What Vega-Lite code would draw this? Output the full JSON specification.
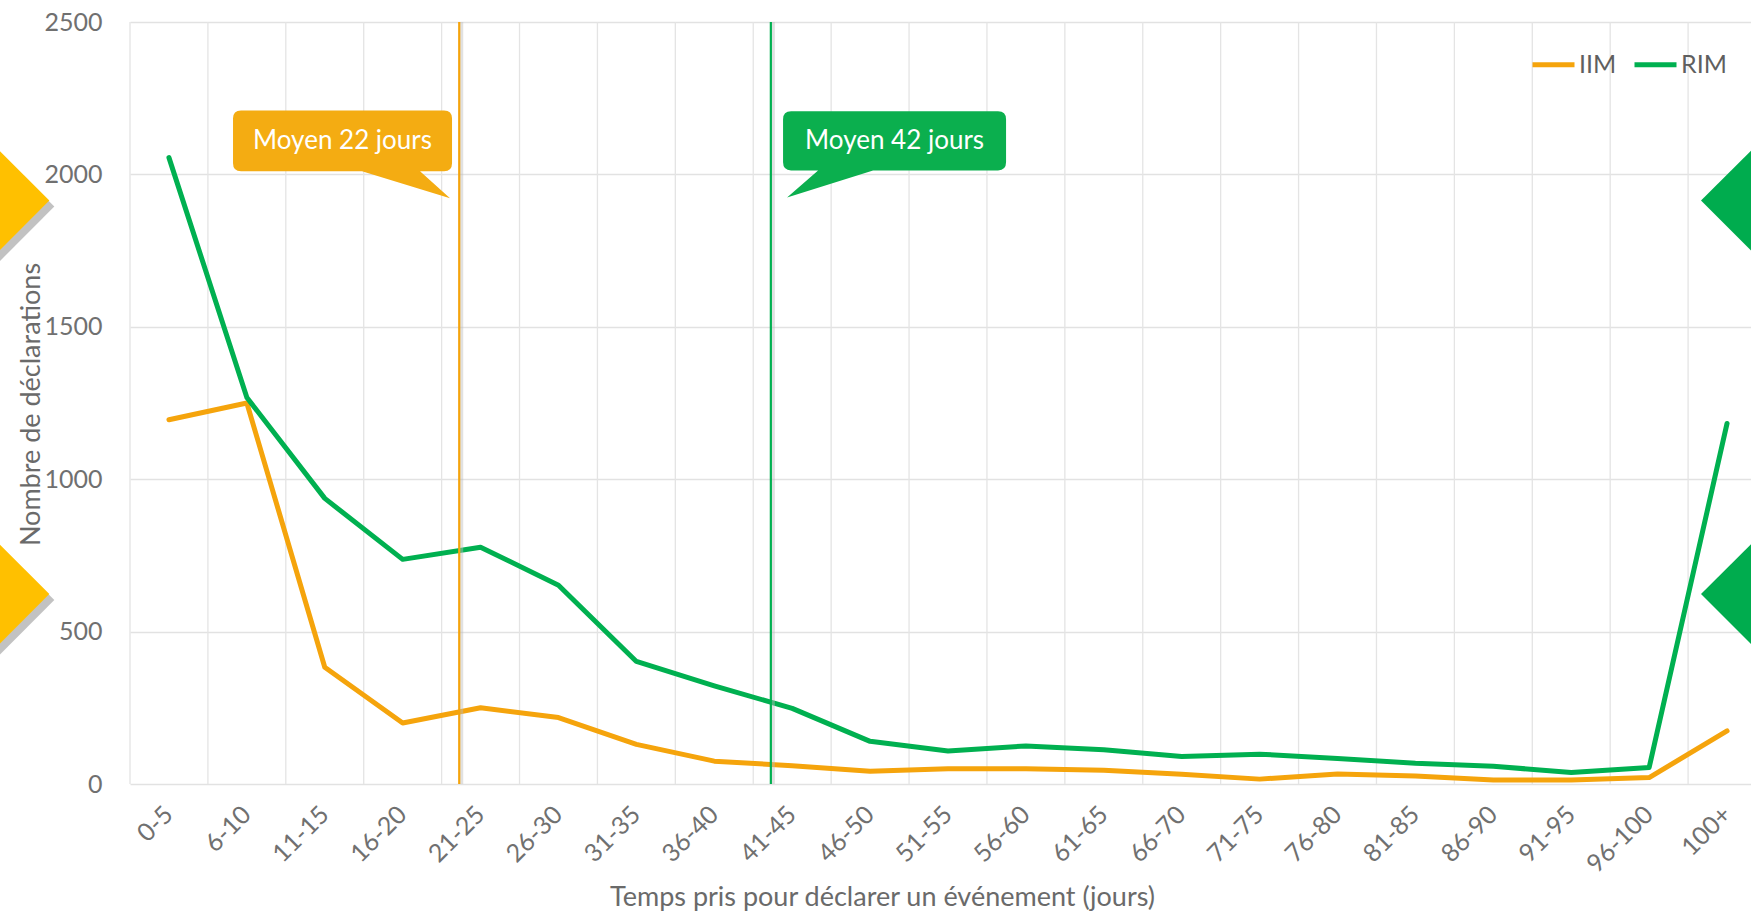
{
  "$schema": "https://vega.github.io/schema/vega-lite/v6.json",
  "autosize": {"type": "none"},
  "width": 1621,
  "height": 762,
  "padding": {"left": 130, "top": 22, "right": 0, "bottom": 130},
  "background": "white",
  "config": {
    "font": "Lato",
    "view": {"stroke": null},
    "axis": {"labelFont": "Lato", "titleFont": "Lato", "labelColor": "#707070", "titleColor": "#6a6a6a", "titleFontWeight": "normal", "domain": false, "ticks": false},
    "legend": {"labelFont": "Lato"}
  },
  "datasets": {
    "counts": [
      {"bin": "0-5", "series": "IIM", "count": 1195}, {"bin": "0-5", "series": "RIM", "count": 2055},
      {"bin": "6-10", "series": "IIM", "count": 1250}, {"bin": "6-10", "series": "RIM", "count": 1268},
      {"bin": "11-15", "series": "IIM", "count": 383}, {"bin": "11-15", "series": "RIM", "count": 937},
      {"bin": "16-20", "series": "IIM", "count": 200}, {"bin": "16-20", "series": "RIM", "count": 737},
      {"bin": "21-25", "series": "IIM", "count": 250}, {"bin": "21-25", "series": "RIM", "count": 777},
      {"bin": "26-30", "series": "IIM", "count": 218}, {"bin": "26-30", "series": "RIM", "count": 652},
      {"bin": "31-35", "series": "IIM", "count": 130}, {"bin": "31-35", "series": "RIM", "count": 402},
      {"bin": "36-40", "series": "IIM", "count": 75}, {"bin": "36-40", "series": "RIM", "count": 322},
      {"bin": "41-45", "series": "IIM", "count": 60}, {"bin": "41-45", "series": "RIM", "count": 248},
      {"bin": "46-50", "series": "IIM", "count": 42}, {"bin": "46-50", "series": "RIM", "count": 140},
      {"bin": "51-55", "series": "IIM", "count": 50}, {"bin": "51-55", "series": "RIM", "count": 108},
      {"bin": "56-60", "series": "IIM", "count": 50}, {"bin": "56-60", "series": "RIM", "count": 125},
      {"bin": "61-65", "series": "IIM", "count": 45}, {"bin": "61-65", "series": "RIM", "count": 112},
      {"bin": "66-70", "series": "IIM", "count": 32}, {"bin": "66-70", "series": "RIM", "count": 90},
      {"bin": "71-75", "series": "IIM", "count": 16}, {"bin": "71-75", "series": "RIM", "count": 98},
      {"bin": "76-80", "series": "IIM", "count": 33}, {"bin": "76-80", "series": "RIM", "count": 84},
      {"bin": "81-85", "series": "IIM", "count": 26}, {"bin": "81-85", "series": "RIM", "count": 68},
      {"bin": "86-90", "series": "IIM", "count": 13}, {"bin": "86-90", "series": "RIM", "count": 58},
      {"bin": "91-95", "series": "IIM", "count": 13}, {"bin": "91-95", "series": "RIM", "count": 38},
      {"bin": "96-100", "series": "IIM", "count": 21}, {"bin": "96-100", "series": "RIM", "count": 54},
      {"bin": "100+", "series": "IIM", "count": 174}, {"bin": "100+", "series": "RIM", "count": 1183}
    ],
    "means": [
      {"bin": "21-25", "series": "IIM", "days": 22},
      {"bin": "41-45", "series": "RIM", "days": 42}
    ],
    "callouts": [
      {"bin": "11-15", "series": "IIM", "level": 2110, "label": "Moyen 22 jours"},
      {"bin": "46-50", "series": "RIM", "level": 2110, "label": "Moyen 42 jours"}
    ],
    "decor": [
      {"pos": -0.0837, "level": 1914, "side": "left"},
      {"pos": -0.0837, "level": 623, "side": "left"},
      {"pos": 1.0031, "level": 1914, "side": "right"},
      {"pos": 1.0031, "level": 623, "side": "right"}
    ]
  },
  "layer": [
    {
      "layer": [
        {
          "data": {"name": "counts"},
          "transform": [{"filter": "datum.series === 'IIM'"}],
          "mark": {"type": "rule", "color": "#e4e4e4", "strokeWidth": 1.3},
          "encoding": {
            "x": {"field": "bin", "type": "ordinal", "sort": null, "bandPosition": 0,
                  "scale": {"type": "band", "paddingInner": 0, "paddingOuter": 0, "range": [0, 1636],
                            "domain": ["0-5","6-10","11-15","16-20","21-25","26-30","31-35","36-40","41-45","46-50","51-55","56-60","61-65","66-70","71-75","76-80","81-85","86-90","91-95","96-100","100+"]},
                  "axis": {"title": "Temps pris pour déclarer un événement (jours)", "labelAngle": -45, "labelAlign": "right", "labelBaseline": "middle", "bandPosition": 0.5,
                           "labelFontSize": 25, "labelPadding": 26, "titleFontSize": 27, "titleX": 752, "titleY": 113, "titleBaseline": "middle", "titleAnchor": "middle", "titleAlign": "center", "grid": false}}
          }
        },
        {
          "data": {"name": "counts"},
          "mark": {"type": "line", "strokeWidth": 5, "strokeCap": "round", "strokeJoin": "round"},
          "encoding": {
            "x": {"field": "bin", "type": "ordinal", "sort": null, "bandPosition": 0.5,
                  "scale": {"type": "band", "paddingInner": 0, "paddingOuter": 0, "range": [0, 1636],
                            "domain": ["0-5","6-10","11-15","16-20","21-25","26-30","31-35","36-40","41-45","46-50","51-55","56-60","61-65","66-70","71-75","76-80","81-85","86-90","91-95","96-100","100+"]}},
            "y": {"field": "count", "type": "quantitative",
                  "scale": {"domain": [0, 2500], "nice": false},
                  "axis": {"title": "Nombre de déclarations", "values": [0, 500, 1000, 1500, 2000, 2500], "format": "d", "labelFontSize": 25, "labelPadding": 28,
                           "grid": true, "gridColor": "#e2e2e2", "gridWidth": 1.5, "titleFontSize": 27, "titleX": -99, "titleY": 382, "titleAngle": -90, "titleAlign": "center", "titleBaseline": "middle"}},
            "color": {"field": "series", "type": "nominal",
                      "scale": {"domain": ["IIM", "RIM"], "range": ["#F5A40C", "#00B050"]},
                      "legend": {"title": null, "orient": "none", "legendX": 1400, "legendY": 19, "direction": "horizontal", "columns": 2,
                                 "symbolType": "stroke", "symbolSize": 1764, "symbolStrokeWidth": 5, "labelFontSize": 25, "labelColor": "#5f5f5f",
                                 "labelOffset": 2, "columnPadding": 7, "padding": 0}}
          }
        },
        {
          "data": {"name": "means"},
          "mark": {"type": "rule", "strokeWidth": 4, "color": "#bdbdbd", "opacity": 0.45, "xOffset": 2},
          "encoding": {
            "x": {"field": "bin", "type": "ordinal", "sort": null, "bandPosition": 0.226,
                  "scale": {"type": "band", "paddingInner": 0, "paddingOuter": 0, "range": [0, 1636],
                            "domain": ["0-5","6-10","11-15","16-20","21-25","26-30","31-35","36-40","41-45","46-50","51-55","56-60","61-65","66-70","71-75","76-80","81-85","86-90","91-95","96-100","100+"]}}
          }
        },
        {
          "data": {"name": "means"},
          "mark": {"type": "rule", "strokeWidth": 2.2},
          "encoding": {
            "x": {"field": "bin", "type": "ordinal", "sort": null, "bandPosition": 0.226,
                  "scale": {"type": "band", "paddingInner": 0, "paddingOuter": 0, "range": [0, 1636],
                            "domain": ["0-5","6-10","11-15","16-20","21-25","26-30","31-35","36-40","41-45","46-50","51-55","56-60","61-65","66-70","71-75","76-80","81-85","86-90","91-95","96-100","100+"]}},
            "color": {"field": "series", "type": "nominal", "legend": null}
          }
        },
        {
          "data": {"name": "callouts"},
          "transform": [{"filter": "datum.series === 'IIM'"}],
          "mark": {"type": "point", "filled": true, "opacity": 1, "color": "#F4AC12", "size": 47961,
                   "shape": "M -0.927 -0.2785 L 0.927 -0.2785 Q 1 -0.2785 1 -0.2055 L 1 0.2055 Q 1 0.2785 0.927 0.2785 L 0.708 0.2785 L 0.982 0.525 L 0.178 0.2785 L -0.927 0.2785 Q -1 0.2785 -1 0.2055 L -1 -0.2055 Q -1 -0.2785 -0.927 -0.2785 Z"},
          "encoding": {
            "x": {"field": "bin", "type": "ordinal", "sort": null, "bandPosition": 0.728,
                  "scale": {"type": "band", "paddingInner": 0, "paddingOuter": 0, "range": [0, 1636],
                            "domain": ["0-5","6-10","11-15","16-20","21-25","26-30","31-35","36-40","41-45","46-50","51-55","56-60","61-65","66-70","71-75","76-80","81-85","86-90","91-95","96-100","100+"]}},
            "y": {"field": "level", "type": "quantitative"}
          }
        },
        {
          "data": {"name": "callouts"},
          "transform": [{"filter": "datum.series === 'IIM'"}],
          "mark": {"type": "text", "color": "white", "fontSize": 26, "font": "Lato", "align": "center", "baseline": "middle"},
          "encoding": {
            "x": {"field": "bin", "type": "ordinal", "sort": null, "bandPosition": 0.728,
                  "scale": {"type": "band", "paddingInner": 0, "paddingOuter": 0, "range": [0, 1636],
                            "domain": ["0-5","6-10","11-15","16-20","21-25","26-30","31-35","36-40","41-45","46-50","51-55","56-60","61-65","66-70","71-75","76-80","81-85","86-90","91-95","96-100","100+"]}},
            "y": {"field": "level", "type": "quantitative"},
            "text": {"field": "label"}
          }
        },
        {
          "data": {"name": "callouts"},
          "transform": [{"filter": "datum.series === 'RIM'"}],
          "mark": {"type": "point", "filled": true, "opacity": 1, "color": "#0BAF4E", "size": 49729,
                   "shape": "M -0.928 -0.2646 L 0.928 -0.2646 Q 1 -0.2646 1 -0.1926 L 1 0.1926 Q 1 0.2646 0.928 0.2646 L -0.193 0.2646 L -0.964 0.507 L -0.686 0.2646 L -0.928 0.2646 Q -1 0.2646 -1 0.1926 L -1 -0.1926 Q -1 -0.2646 -0.928 -0.2646 Z"},
          "encoding": {
            "x": {"field": "bin", "type": "ordinal", "sort": null, "bandPosition": 0.814,
                  "scale": {"type": "band", "paddingInner": 0, "paddingOuter": 0, "range": [0, 1636],
                            "domain": ["0-5","6-10","11-15","16-20","21-25","26-30","31-35","36-40","41-45","46-50","51-55","56-60","61-65","66-70","71-75","76-80","81-85","86-90","91-95","96-100","100+"]}},
            "y": {"field": "level", "type": "quantitative"}
          }
        },
        {
          "data": {"name": "callouts"},
          "transform": [{"filter": "datum.series === 'RIM'"}],
          "mark": {"type": "text", "color": "white", "fontSize": 26, "font": "Lato", "align": "center", "baseline": "middle"},
          "encoding": {
            "x": {"field": "bin", "type": "ordinal", "sort": null, "bandPosition": 0.814,
                  "scale": {"type": "band", "paddingInner": 0, "paddingOuter": 0, "range": [0, 1636],
                            "domain": ["0-5","6-10","11-15","16-20","21-25","26-30","31-35","36-40","41-45","46-50","51-55","56-60","61-65","66-70","71-75","76-80","81-85","86-90","91-95","96-100","100+"]}},
            "y": {"field": "level", "type": "quantitative"},
            "text": {"field": "label"}
          }
        }
      ]
    },
    {
      "data": {"name": "decor"},
      "layer": [
        {
          "transform": [{"filter": "datum.side === 'left'"}],
          "mark": {"type": "point", "shape": "diamond", "filled": true, "size": 12100, "color": "#8f8f8f", "opacity": 0.55, "xOffset": 5, "yOffset": 6},
          "encoding": {
            "x": {"field": "pos", "type": "quantitative", "scale": {"domain": [0, 1], "nice": false, "zero": false}, "axis": null},
            "y": {"field": "level", "type": "quantitative"}
          }
        },
        {
          "transform": [{"filter": "datum.side === 'left'"}],
          "mark": {"type": "point", "shape": "diamond", "filled": true, "size": 12100, "color": "#FFC000", "opacity": 1},
          "encoding": {
            "x": {"field": "pos", "type": "quantitative", "scale": {"domain": [0, 1], "nice": false, "zero": false}, "axis": null},
            "y": {"field": "level", "type": "quantitative"}
          }
        },
        {
          "transform": [{"filter": "datum.side === 'right'"}],
          "mark": {"type": "point", "shape": "diamond", "filled": true, "size": 12100, "color": "#00AC4E", "opacity": 1},
          "encoding": {
            "x": {"field": "pos", "type": "quantitative", "scale": {"domain": [0, 1], "nice": false, "zero": false}, "axis": null},
            "y": {"field": "level", "type": "quantitative"}
          }
        }
      ]
    }
  ],
  "resolve": {"scale": {"x": "independent"}, "axis": {"x": "independent"}}
}
